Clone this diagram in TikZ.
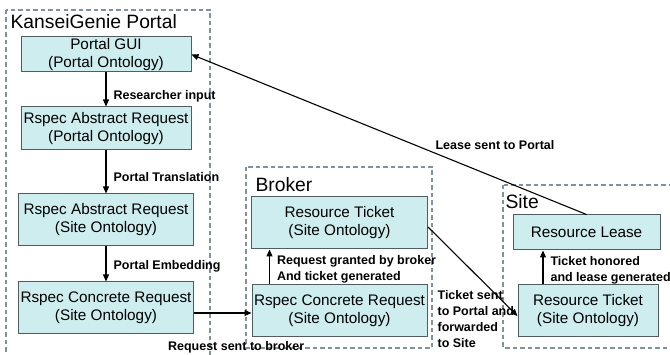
\documentclass[tikz,border=0pt]{standalone}
\usepackage{fontspec}
\setmainfont{Liberation Sans}
\usetikzlibrary{shapes,arrows.meta}

\definecolor{boxfill}{RGB}{206,237,239}
\definecolor{boxline}{RGB}{80,92,98}
\definecolor{groupline}{RGB}{130,146,156}

\begin{document}
\begin{tikzpicture}[->,>={Triangle[length=7pt,width=6pt]},x=1pt,y=-1pt,line width=1.1pt]
\tikzstyle{stage} = [rectangle, draw=boxline, fill=boxfill, line width=1pt, align=center, minimum width=175pt, minimum height=52pt, inner sep=1pt, font=\fontsize{15.3}{18}\selectfont]
\tikzstyle{group} = [-, draw=groupline, line width=1.2pt, dash pattern=on 4.5pt off 3pt]
\tikzstyle{grouptitle} = [anchor=west, inner sep=0pt, font=\fontsize{19.3}{22}\selectfont]
\tikzstyle{msg} = [inner xsep=7pt, inner ysep=1pt, align=left, font=\bfseries\fontsize{12.5}{16}\selectfont]
\useasboundingbox (0,0) rectangle (670,355);
% dashed frames
\draw[group] (6,10) rectangle (210,362);
\node[grouptitle] (portaltitle) at (10,22) {KanseiGenie Portal};
\draw[group] (246,167) rectangle (432,348);
\node[grouptitle] (brokertitle) at (255,185) {Broker};
\draw[group] (503,185) rectangle (680,348);
\node[grouptitle] (sitetitle) at (505,202) {Site};
% portal column
\node[stage, minimum width=170pt, minimum height=35pt] (gui) at (106,54.5) {Portal GUI\\(Portal Ontology)};
\node[stage, minimum width=170pt, minimum height=43pt][below of=gui, node distance=74pt] (absP) {Rspec Abstract Request\\(Portal Ontology)};
\node[stage][below of=absP, node distance=91.5pt] (absS) {Rspec Abstract Request\\(Site Ontology)};
\node[stage][below of=absS, node distance=88pt] (conP) {Rspec Concrete Request\\(Site Ontology)};
% broker
\node[stage, minimum width=176pt] (tktB) at (339.5,223) {Resource Ticket\\(Site Ontology)};
\node[stage][below of=tktB, node distance=87.5pt] (conB) {Rspec Concrete Request\\(Site Ontology)};
% site
\node[stage, minimum width=147pt, minimum height=35pt] (lease) at (586.5,232.5) {Resource Lease};
\node[stage, minimum width=140pt][below of=lease, node distance=78.5pt, xshift=1.5pt] (tktS) {Resource Ticket\\(Site Ontology)};
\path (gui) edge node[msg, right, pos=0.71] {Researcher input} (absP)
      (absP) edge node[msg, right, pos=0.61] {Portal Translation} (absS)
      (absS) edge node[msg, right, pos=0.56] {Portal Embedding} (conP)
      ([yshift=-5pt]conP.east) edge node[msg, pos=0, anchor=north west, inner xsep=1pt, xshift=-27.5pt, yshift=-27pt] {Request sent to broker} ([yshift=-5pt]conP.east -| conB.west)
      ([xshift=-70pt]conB.north) edge node[msg, right, pos=0.42] {Request granted by broker\\And ticket generated} ([xshift=-70pt]conB.north |- tktB.south)
      ([yshift=-4pt]tktB.east) edge node[msg, pos=0.09, anchor=north west, inner xsep=1pt, yshift=-54pt] {Ticket sent\\to Portal and\\forwarded\\to Site} ([yshift=-5pt]tktS.west)
      ([xshift=-45pt]tktS.north) edge node[msg, right, pos=0.43] {Ticket honored\\and lease generated} ([xshift=-45pt]tktS.north |- lease.south)
      (lease.north) edge node[msg, pos=0.386, anchor=south west, inner xsep=1pt, yshift=2pt] {Lease sent to Portal} (gui.east);
\end{tikzpicture}
\end{document}
